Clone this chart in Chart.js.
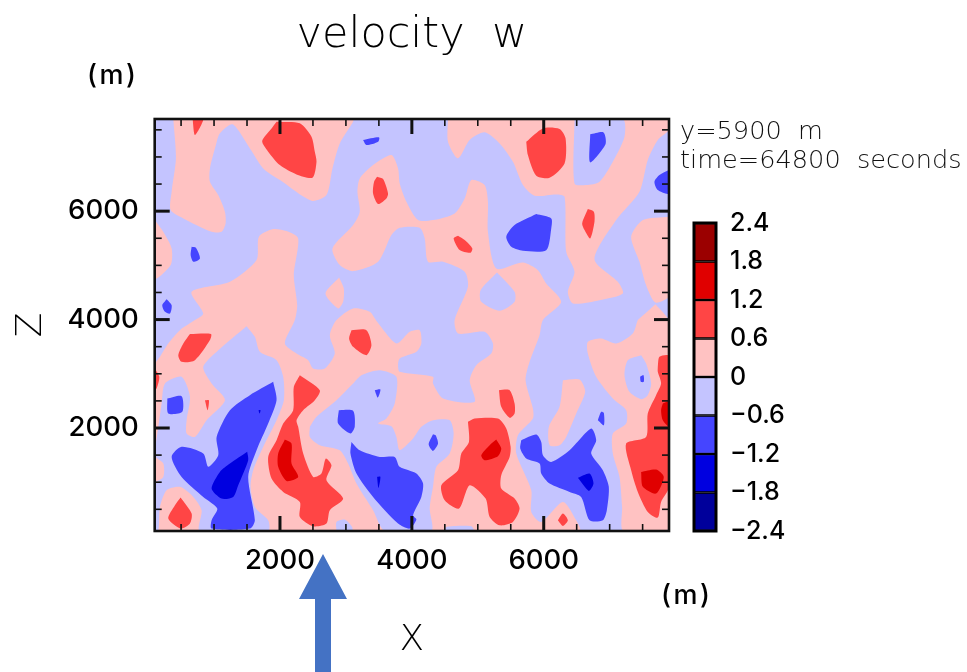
<!DOCTYPE html>
<html>
  <head>
    <title>velocity w</title>
    <script src="https://cdn.jsdelivr.net/npm/chart.js"></script>
    <style>
      body {
        margin: 0;
        background: #fff;
      }

      #page {
        position: relative;
        width: 967px;
        height: 672px;
        overflow: hidden;
      }

      canvas {
        position: absolute;
        filter: blur(0.5px);
      }

      .note {
        position: absolute;
        white-space: pre;
        filter: blur(0.4px);
        font-family: 'DejaVu Sans', sans-serif;
      }

      .unit {
        font-family: Inter, sans-serif;
        font-size: 27px;
        font-weight: 500;
        letter-spacing: 2.5px;
        color: #000;
      }

      .info {
        left: 680px;
        font-size: 25.6px;
        font-weight: 200;
        color: #111;
        line-height: 30px;
      }
    </style>
  </head>
  <body>
    <div id="page">
      <canvas id="contour" width="967" height="672" style="left: 0; top: 0"></canvas>
      <canvas id="colorbar" width="130" height="366" style="left: 684px; top: 194px"></canvas>
      <div class="note unit" style="left: 87px; top: 58px">(m)</div>
      <div class="note unit" style="left: 661px; top: 578px">(m)</div>
      <div class="note info" style="top: 115px">y=5900  m</div>
      <div class="note info" style="top: 144px">time=64800  seconds</div>
      <svg style="position: absolute; left: 295px; top: 550px" width="56" height="122">
        <polygon points="28,4 52,49 36,49 36,122 20,122 20,49 4,49" fill="#4472c4"></polygon>
      </svg>
    </div>

    <script>
      const xTicks = [500, 1000, 1500, 2000, 2500, 3000, 3500, 4000, 4500, 5000, 5500, 6000, 6500, 7000, 7500];
      const zTicks = [500, 1000, 1500, 2000, 2500, 3000, 3500, 4000, 4500, 5000, 5500, 6000, 6500, 7000, 7500];
      const labelledTicks = [2000, 4000, 6000];
      const levels = [-2.4, -1.8, -1.2, -0.6, 0, 0.6, 1.2, 1.8, 2.4];
      const bandColors = ['#00009b', '#0000e0', '#4545ff', '#c4c4ff', '#ffc2c2', '#ff4545', '#e00000', '#9b0000'];

      // contour outlines, flat x,z pairs in metres
      const baseBand = [[100, 100, 100, 7700, 7900, 7700, 7900, 100]];

      const band0to06 = [
        [382, 7700, 422, 6974, 357, 6358, 342, 6020, 534, 5866, 963, 5620, 1114, 5620, 1175, 5774, 1165, 5989, 1064, 6297, 938, 6543, 938, 6789, 1028, 7220, 1089, 7435, 1281, 7601, 1544, 7158, 1746, 6789, 2000, 6574, 2478, 6192, 2705, 6297, 2796, 6789, 2907, 7250, 3109, 7650, 3109, 7700],
        [100, 5835, 230, 5620, 357, 5312, 342, 5005, 100, 4758],
        [100, 100, 100, 3159, 180, 3313, 306, 3559, 483, 3805, 710, 3990, 836, 4112, 660, 4512, 1241, 4697, 1645, 5097, 1680, 5528, 1897, 5669, 2099, 5632, 2276, 5497, 2210, 4820, 2261, 4266, 2225, 3990, 2074, 3559, 2251, 3375, 2427, 3252, 2503, 3098, 2680, 3098, 2831, 3375, 2756, 3713, 2857, 3990, 3109, 4205, 3362, 4143, 3473, 3959, 3766, 3559, 3968, 3775, 4119, 3805, 4144, 3559, 4069, 3405, 3816, 3282, 3791, 3159, 3816, 3036, 4321, 2944, 4321, 2821, 4473, 2544, 4952, 2483, 4877, 2882, 4978, 3159, 5205, 3375, 5230, 3559, 5104, 3775, 4700, 3744, 4649, 3990, 4851, 4605, 4801, 4881, 4473, 5066, 4245, 5066, 4195, 5497, 4119, 5694, 3816, 5694, 3690, 5558, 3488, 5066, 3109, 4894, 2907, 5005, 2796, 5312, 3109, 5743, 3210, 5989, 3175, 6358, 3210, 6604, 3412, 6850, 3690, 7035, 3791, 6789, 3816, 6512, 3917, 6174, 4094, 5835, 4321, 5835, 4649, 5958, 4801, 6235, 4902, 6574, 5104, 6481, 5154, 6174, 5154, 5620, 5281, 4943, 5685, 5054, 5912, 4912, 6038, 4666, 6265, 4328, 5988, 3990, 5937, 3713, 5786, 3221, 5725, 2882, 5836, 2359, 5836, 2175, 5609, 1867, 5584, 1529, 5811, 852, 5811, 452, 5962, 267, 6291, 637, 6493, 298, 6543, 100],
        [4548, 7700, 4548, 7281, 4700, 6974, 4877, 7312, 5104, 7454, 5331, 7250, 5533, 6912, 5685, 6481, 5861, 6284, 6190, 6309, 6316, 6266, 6341, 5251, 6467, 4882, 6366, 4512, 6442, 4297, 6846, 4358, 7200, 4482, 7124, 4697, 6770, 5115, 7099, 5835, 7452, 6358, 7578, 6943, 7730, 7312, 7896, 7497, 7900, 7700],
        [7900, 5897, 7503, 5835, 7326, 5528, 7452, 5066, 7553, 4635, 7694, 4315, 7900, 4439],
        [7694, 4285, 7900, 3958, 7900, 250, 7860, 100, 7209, 100, 7189, 544, 7149, 1098, 7048, 1529, 7048, 1898, 7250, 2083, 7250, 2329, 7048, 2544, 6796, 2944, 6669, 3375, 6669, 3590, 6871, 3652, 7099, 3559, 7351, 3744, 7427, 3990, 7452, 4020],
        [6291, 2882, 6543, 2895, 6629, 2667, 6493, 2267, 6341, 1836, 6240, 1683, 6089, 1683, 6078, 2021, 6240, 2390],
        [2897, 4777, 2968, 4574, 2958, 4328, 2882, 4205, 2690, 4482]
      ];

      const bandMinus06to0 = [
        [1493, 3879, 1619, 3682, 1695, 3405, 1948, 3252, 2049, 2944, 2059, 2513, 1948, 2144, 1746, 1652, 1594, 1221, 1554, 914, 1619, 544, 1821, 298, 1821, 100, 786, 100, 811, 483, 685, 729, 483, 914, 281, 852, 180, 544, 155, 100, 100, 100, 100, 975, 231, 1098, 231, 1344, 100, 1498, 155, 2021, 205, 2452, 256, 2821, 508, 2944, 635, 2575, 584, 2144, 584, 1898, 710, 1836, 887, 2144, 1165, 2513, 963, 2821, 836, 3129, 1064, 3436],
        [5291, 4869, 5558, 4512, 5558, 4328, 5331, 4162, 5053, 4328, 5043, 4543],
        [2453, 2021, 2554, 2206, 2857, 2513, 3109, 2821, 3235, 2975, 3513, 3067, 3766, 2944, 3740, 2452, 3614, 2175, 3488, 2083, 3690, 2033, 3766, 1836, 3816, 1590, 4018, 1806, 4144, 2021, 4321, 2144, 4574, 2144, 4634, 1898, 4574, 1529, 4372, 1283, 4321, 914, 4271, 514, 4296, 100, 3589, 100, 3412, 483, 3160, 975, 3033, 1344, 2907, 1590, 2604, 1683, 2453, 1836],
        [2857, 100, 2857, 267, 2983, 311, 3094, 175, 3094, 100],
        [4498, 100, 4523, 175, 4902, 187, 4937, 100],
        [7477, 3344, 7553, 3190, 7629, 2821, 7578, 2606, 7477, 2532, 7300, 2667, 7225, 2975, 7275, 3252],
        [6467, 7700, 7200, 7700, 7225, 7373, 7048, 6912, 6846, 6543, 6644, 6481, 6467, 6512]
      ];

      const band06to12 = [
        [1948, 7650, 2301, 7620, 2478, 7373, 2528, 7097, 2554, 6912, 2493, 6617, 2251, 6678, 1998, 6850, 1821, 7097, 1730, 7293, 1872, 7527],
        [675, 7700, 837, 7700, 710, 7404],
        [3473, 6635, 3564, 6592, 3639, 6327, 3614, 6235, 3488, 6131, 3412, 6327, 3427, 6543],
        [5735, 7281, 5988, 7527, 6240, 7515, 6331, 7343, 6316, 6881, 6089, 6617, 5887, 6654, 5760, 7035],
        [6669, 6038, 6760, 5989, 6770, 5804, 6705, 5497, 6619, 5651, 6583, 5774],
        [4700, 5546, 4801, 5466, 4917, 5312, 4887, 5232, 4725, 5282, 4634, 5497],
        [635, 3732, 953, 3732, 938, 3621, 710, 3252, 508, 3221, 458, 3344, 534, 3559],
        [3084, 3805, 3311, 3805, 3387, 3529, 3311, 3344, 3109, 3498, 3048, 3652],
        [100, 3098, 170, 2944, 130, 2729, 100, 2729],
        [493, 717, 660, 421, 635, 237, 493, 144, 306, 329, 407, 575],
        [2301, 2975, 2604, 2698, 2528, 2513, 2352, 2329, 2251, 2144, 2276, 2021, 2352, 1529, 2503, 1098, 2629, 1160, 2695, 1437, 2781, 1314, 2705, 1037, 2958, 698, 2756, 483, 2705, 237, 2503, 187, 2301, 360, 2301, 637, 2049, 821, 1872, 1067, 1821, 1467, 1948, 1775, 2049, 2083, 2200, 2329, 2210, 2759],
        [862, 2513, 922, 2513, 902, 2329],
        [5321, 2698, 5483, 2698, 5558, 2452, 5558, 2267, 5483, 2187, 5356, 2390],
        [4851, 2113, 4952, 2175, 5306, 2175, 5432, 1990, 5498, 1652, 5483, 1467, 5356, 1129, 5356, 883, 5558, 698, 5634, 514, 5533, 267, 5331, 206, 5180, 360, 5119, 698, 4877, 944, 4715, 514, 4498, 667, 4447, 944, 4700, 1221, 4750, 1529, 4866, 1744],
        [6215, 298, 6291, 421, 6366, 298, 6291, 194],
        [7730, 3129, 7755, 3313, 7900, 3325, 7900, 913, 7780, 637, 7730, 347, 7578, 452, 7427, 821, 7326, 1221, 7250, 1713, 7553, 1836, 7578, 2267, 7704, 2606, 7780, 2821, 7730, 3036]
      ];

      const band12to18 = [
        [2074, 1787, 2175, 1713, 2175, 1344, 2276, 1098, 2099, 1024, 1973, 1283, 1973, 1529],
        [5280, 1787, 5356, 1621, 5306, 1480, 5104, 1406, 5053, 1498, 5180, 1683],
        [7477, 1190, 7704, 1233, 7821, 1098, 7704, 790, 7503, 914],
        [7806, 2452, 7900, 2483, 7900, 2033, 7806, 2144, 7780, 2329]
      ];

      const bandMinus12toMinus06 = [
        [3260, 7312, 3503, 7361, 3488, 7281, 3311, 7220],
        [660, 5343, 725, 5324, 786, 5128, 685, 5066, 645, 5189],
        [281, 4377, 357, 4266, 332, 4112, 256, 4143, 215, 4266],
        [6705, 7417, 6907, 7453, 6937, 7232, 6705, 6900],
        [7900, 6758, 7755, 6666, 7679, 6543, 7730, 6389, 7900, 6327],
        [5887, 5946, 6114, 5866, 6114, 5681, 6038, 5281, 5685, 5269, 5508, 5343, 5432, 5528, 5558, 5743],
        [291, 2544, 508, 2587, 518, 2298, 306, 2267],
        [1897, 2852, 1948, 2513, 1821, 2083, 1645, 1590, 1518, 1098, 1619, 298, 1544, 144, 963, 144, 963, 298, 1049, 514, 836, 729, 508, 1098, 357, 1467, 508, 1652, 836, 1529, 912, 1283, 1064, 1498, 1039, 1836, 1241, 2329, 1544, 2606],
        [2892, 2329, 3109, 2316, 3134, 2021, 3069, 1898, 2882, 2083],
        [3084, 1744, 3210, 1590, 3513, 1467, 3740, 1467, 3816, 1283, 4069, 1160, 4170, 975, 4144, 729, 4018, 390, 4069, 311, 3968, 144, 3791, 237, 3412, 729, 3160, 1160, 3069, 1529],
        [4321, 1886, 4361, 1867, 4397, 1713, 4321, 1578, 4255, 1701],
        [6821, 2144, 6871, 2298, 6912, 2279, 6912, 2052],
        [5659, 1775, 5887, 1880, 5962, 1744, 5988, 1498, 6114, 1375, 6392, 1590, 6720, 1990, 6796, 1775, 6720, 1529, 6897, 1221, 6987, 914, 6957, 483, 6897, 298, 6695, 298, 6568, 729, 6392, 821, 6089, 975, 5962, 1160, 5937, 1344, 5735, 1437, 5644, 1621],
        [7462, 2944, 7513, 2975, 7518, 2852, 7472, 2852],
        [3437, 2698, 3523, 2710, 3483, 2562]
      ];

      const bandMinus18toMinus12 = [
        [1503, 1560, 1518, 1406, 1367, 944, 1291, 729, 1114, 698, 963, 883, 1089, 1190, 1241, 1344],
        [6518, 1080, 6695, 1160, 6755, 975, 6684, 840],
        [3473, 1098, 3523, 1098, 3493, 895],
        [1675, 2329, 1705, 2329, 1690, 2267]
      ];

      const paintOrder = [
        [baseBand, 3],
        [band0to06, 4],
        [bandMinus06to0, 3],
        [bandMinus12toMinus06, 2],
        [band06to12, 5],
        [bandMinus18toMinus12, 1],
        [band12to18, 6]
      ];

      const datasets = [];
      paintOrder.forEach(([outlines, band]) => {
        outlines.forEach((outline) => {
          const points = [];
          for (let i = 0; i < outline.length; i += 2) {
            points.push({ x: outline[i], y: outline[i + 1] });
          }
          points.push(points[0]);
          datasets.push({
            data: points,
            showLine: true,
            fill: 'shape',
            backgroundColor: bandColors[band],
            borderWidth: 0,
            pointRadius: 0,
            tension: outlines === baseBand ? 0 : 0.25,
          });
        });
      });
      // chart.js paints the first dataset last
      datasets.reverse();

      const fontFamily = "'DejaVu Sans', sans-serif";
      const labelFamily = 'Inter, sans-serif';

      const ticksAndFrame = {
        id: 'ticksAndFrame',
        afterDatasetsDraw(chart) {
          const { ctx, chartArea: a, scales } = chart;
          const line = (x1, y1, x2, y2, w) => {
            ctx.lineWidth = w;
            ctx.beginPath();
            ctx.moveTo(x1, y1);
            ctx.lineTo(x2, y2);
            ctx.stroke();
          };
          ctx.save();
          ctx.strokeStyle = '#111';
          xTicks.forEach((v) => {
            const major = labelledTicks.includes(v);
            const len = major ? 15 : 7;
            const w = major ? 3 : 1.6;
            const x = scales.x.getPixelForValue(v);
            line(x, a.bottom, x, a.bottom - len, w);
            line(x, a.top, x, a.top + len, w);
          });
          zTicks.forEach((v) => {
            const major = labelledTicks.includes(v);
            const len = major ? 15 : 7;
            const w = major ? 3 : 1.6;
            const y = scales.y.getPixelForValue(v);
            line(a.left, y, a.left + len, y, w);
            line(a.right, y, a.right - len, y, w);
          });
          ctx.lineWidth = 2.6;
          ctx.strokeRect(a.left, a.top, a.right - a.left, a.bottom - a.top);
          ctx.restore();
        },
      };

      new Chart(document.getElementById('contour'), {
        type: 'scatter',
        data: { datasets: datasets },
        plugins: [ticksAndFrame],
        options: {
          responsive: false,
          animation: false,
          layout: { padding: { right: 298 } },
          plugins: {
            legend: { display: false },
            tooltip: { enabled: false },
            title: {
              display: true,
              text: 'velocity  w',
              fullSize: false,
              color: '#000',
              font: { family: fontFamily, size: 43, weight: 200 },
              padding: { top: 10, bottom: 57.4 },
            },
          },
          scales: {
            x: {
              type: 'linear',
              min: 100,
              max: 7900,
              grid: { display: false, drawTicks: false },
              border: { display: false },
              afterBuildTicks: (scale) => {
                scale.ticks = xTicks.map((v) => ({ value: v }));
              },
              afterFit: (scale) => {
                scale.height = 141;
              },
              ticks: {
                autoSkip: false,
                maxRotation: 0,
                padding: 13,
                color: '#000',
                font: { family: labelFamily, size: 27.5, weight: 500 },
                callback: (v) => (labelledTicks.includes(v) ? String(v) : ''),
              },
              title: {
                display: true,
                text: 'X',
                color: '#000',
                font: { family: fontFamily, size: 36, weight: 200 },
                padding: { top: 0, bottom: 10 },
              },
            },
            y: {
              type: 'linear',
              min: 100,
              max: 7700,
              grid: { display: false, drawTicks: false },
              border: { display: false },
              afterBuildTicks: (scale) => {
                scale.ticks = zTicks.map((v) => ({ value: v }));
              },
              afterFit: (scale) => {
                scale.width = 154.7;
              },
              ticks: {
                autoSkip: false,
                padding: 16,
                color: '#000',
                font: { family: labelFamily, size: 27.5, weight: 500 },
                callback: (v) => (labelledTicks.includes(v) ? String(v) : ''),
              },
              title: {
                display: true,
                text: 'Z',
                color: '#000',
                font: { family: fontFamily, size: 36, weight: 200 },
                padding: { top: 10, bottom: 0 },
              },
            },
          },
        },
      });

      const barFrame = {
        id: 'barFrame',
        afterDatasetsDraw(chart) {
          const { ctx, chartArea: a } = chart;
          ctx.save();
          ctx.strokeStyle = '#000';
          ctx.lineWidth = 3;
          ctx.strokeRect(a.left, a.top, a.right - a.left, a.bottom - a.top);
          ctx.restore();
        },
      };

      new Chart(document.getElementById('colorbar'), {
        type: 'bar',
        data: {
          labels: ['w'],
          datasets: bandColors.map((color, i) => ({
            data: [[levels[i], levels[i + 1]]],
            backgroundColor: color,
            borderColor: '#000',
            borderWidth: { top: 1.5, bottom: 1.5, left: 0, right: 0 },
            borderSkipped: false,
            grouped: false,
            barPercentage: 1,
            categoryPercentage: 1,
          })),
        },
        plugins: [barFrame],
        options: {
          responsive: false,
          animation: false,
          layout: { padding: { left: 10, top: 28, bottom: 28 } },
          plugins: { legend: { display: false }, tooltip: { enabled: false } },
          scales: {
            x: { display: false },
            y: {
              position: 'right',
              min: levels[0],
              max: levels[levels.length - 1],
              grid: { display: false, drawTicks: false },
              border: { display: false },
              afterBuildTicks: (scale) => {
                scale.ticks = levels.map((v) => ({ value: v }));
              },
              afterFit: (scale) => {
                scale.width = 98;
              },
              ticks: {
                autoSkip: false,
                padding: 14,
                color: '#000',
                font: { family: labelFamily, size: 25, weight: 500 },
                callback: (v) => (v === 0 ? '0' : String(v).replace('-', '\u2212')),
              },
            },
          },
        },
      });
    </script>
  </body>
</html>
